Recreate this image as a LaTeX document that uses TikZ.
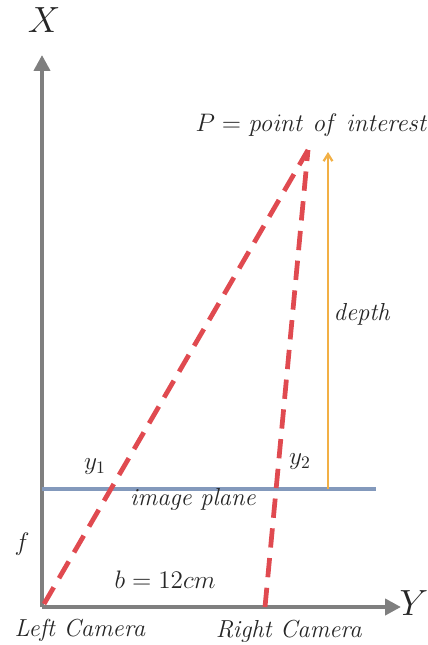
\documentclass[tikz,border=0pt]{standalone}
\usepackage{amsmath}
\usepackage{tikz}
\usetikzlibrary{arrows.meta}
\definecolor{axisgray}{HTML}{7F7F7F}
\definecolor{rayred}{HTML}{E04A50}
\definecolor{planeblue}{HTML}{8399BC}
\definecolor{depthorange}{HTML}{F2B045}

\begin{document}
\begin{tikzpicture}[
  x=0.02cm, y=-0.02cm,
  every node/.style={font=\fontsize{14}{16}\selectfont, text=black!85},
  axis/.style={-{Triangle[length=9pt, width=9pt]}, line width=2.8pt, axisgray},
  ray/.style={rayred, line width=2.7pt, dash pattern=on 11pt off 6pt},
  plane/.style={planeblue, line width=2.4pt},
  depth/.style={-{Straight Barb[length=4pt, width=5pt]}, depthorange, line width=1.3pt},
]
  \useasboundingbox (0,0) rectangle (428,645);

  % axes
  \coordinate (O) at (42,607);
  \coordinate (xtip) at (42,55);
  \coordinate (ytip) at (401,607);
  \draw[axis] (O) -- (xtip);
  \draw[axis] (O) -- (ytip);
  \node (xlab) at (44,20) {\fontsize{21}{23}\selectfont$X$};
  \node (ylab) at (414,603) {\fontsize{21}{23}\selectfont$Y$};

  % cameras and point
  \coordinate (lcam) at (44,604);
  \coordinate (rcam) at (265,607);
  \coordinate (P) at (308,150);
  \node (ptxt) at (312,125) {$P = \mathit{point\ of\ interest}$};
  \node (lcamtxt) at (80,630) {\textit{Left Camera}};
  \node (rcamtxt) at (289,631) {\textit{Right Camera}};

  % image plane
  \coordinate (pl) at (42,489);
  \coordinate (pr) at (376,489);
  \draw[plane] (pl) -- (pr);
  \node (pltxt) at (193,499) {\textit{image plane}};

  % rays
  \draw[ray] (lcam) -- (P);
  \draw[ray] (rcam) -- (P);
  \node (y1) at (95,467) {$y_1$};
  \node (y2) at (300,462) {$y_2$};

  % depth
  \coordinate (dbot) at (328,489);
  \coordinate (dtop) at (328,152);
  \draw[depth] (dbot) -- (dtop);
  \node (dtxt) at (362,314) {\textit{depth}};

  \node (ftxt) at (22,544) {$f$};
  \node (btxt) at (165,580) {$b = 12cm$};
\end{tikzpicture}
\end{document}
